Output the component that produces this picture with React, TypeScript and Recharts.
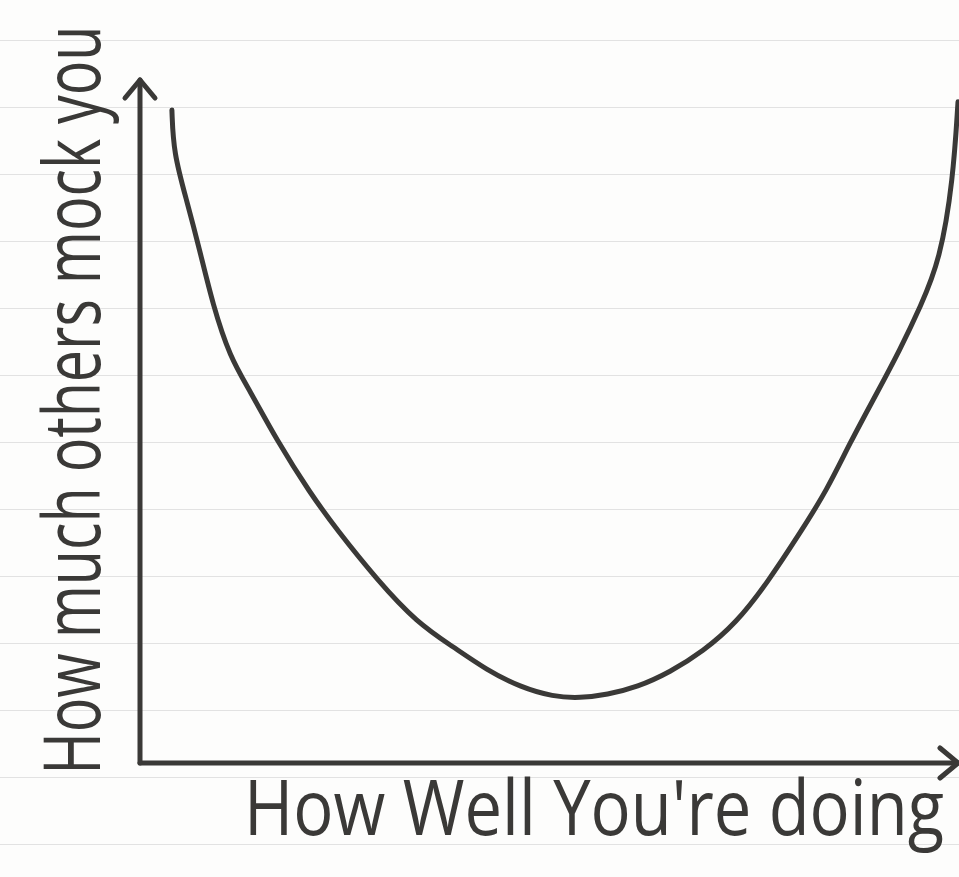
import React from 'react';
import { LineChart, Line, XAxis, YAxis } from 'recharts';

// x = how well you're doing, y = how much others mock you (0-100 scale)
const wellDoing = [
  3.9, 4.1, 5.7, 7.3, 8.9, 11.0, 13.4, 16.7, 20.8, 24.1, 29.0, 33.9, 38.3, 42.4, 46.5, 50.5,
  53.8, 57.1, 60.8, 64.8, 68.8, 72.9, 76.7, 80.7, 84.0, 86.8, 90.1, 92.9, 95.4, 97.8, 99.4, 100,
];
const mockAmount = [
  95.6, 89.3, 82.4, 75.1, 67.1, 59.4, 54.6, 47.3, 39.5, 34.1, 26.8, 20.5, 17.0, 13.6, 11.1, 9.7,
  9.5, 10.0, 11.1, 13.3, 16.3, 20.5, 26.4, 33.7, 40.0, 46.9, 54.2, 60.5, 66.8, 73.6, 85.4, 96.8,
];

const xTitle = "How Well You're doing";
const yTitle = 'How much others mock you';

const data = wellDoing.map((x, i) => ({ x, y: mockAmount[i] }));

const INK = '#3a3937';
const FONT = '"Open Sans", "DejaVu Sans", sans-serif';

// faint ruled-paper lines behind the chart
const paper =
  'repeating-linear-gradient(to bottom, transparent 0px, transparent 40px, #e2e2e2 40px, #e2e2e2 41px, transparent 41px, transparent 67px)';

export default function App() {
  return (
    <div
      style={{
        position: 'absolute',
        left: 0,
        top: 0,
        width: 959,
        height: 877,
        background: `${paper}, #fdfdfc`,
        overflow: 'hidden',
      }}
    >
      <svg width={0} height={0} style={{ position: 'absolute' }}>
        <defs>
          <marker
            id="arrow"
            markerUnits="userSpaceOnUse"
            markerWidth={30}
            markerHeight={40}
            refX={22}
            refY={17}
            orient="auto-start-reverse"
            overflow="visible"
          >
            <path
              d="M4,2 L22,17 L4,32"
              fill="none"
              stroke={INK}
              strokeWidth={5}
              strokeLinecap="round"
              strokeLinejoin="round"
            />
          </marker>
        </defs>
      </svg>
      <LineChart width={959} height={877} data={data} margin={{ top: 80, right: 1, left: 0, bottom: 0 }}>
        <XAxis
          dataKey="x"
          type="number"
          domain={[0, 100]}
          height={114}
          tick={false}
          tickLine={false}
          axisLine={{ stroke: INK, strokeWidth: 5, strokeLinecap: 'round', markerEnd: 'url(#arrow)' }}
          label={({ viewBox }: any) => (
            // narrow the glyphs like the hand lettering
            <g transform={`translate(${viewBox.x + 454}, ${viewBox.y + 72}) scale(0.88, 1)`}>
              <text x={0} y={0} textAnchor="middle" fontFamily={FONT} fontSize={76} fill={INK}>
                {xTitle}
              </text>
            </g>
          )}
        />
        <YAxis
          type="number"
          domain={[0, 100]}
          width={140}
          tick={false}
          tickLine={false}
          axisLine={{ stroke: INK, strokeWidth: 5, strokeLinecap: 'round', markerStart: 'url(#arrow)' }}
          label={({ viewBox }: any) => (
            <g transform={`translate(${viewBox.x + 100}, ${viewBox.y + 320}) rotate(-90) scale(0.736, 1)`}>
              <text x={0} y={0} textAnchor="middle" fontFamily={FONT} fontSize={78} fill={INK}>
                {yTitle}
              </text>
            </g>
          )}
        />
        <Line
          type="basis"
          dataKey="y"
          stroke={INK}
          strokeWidth={5}
          strokeLinecap="round"
          dot={false}
          activeDot={false}
          isAnimationActive={false}
        />
      </LineChart>
    </div>
  );
}
